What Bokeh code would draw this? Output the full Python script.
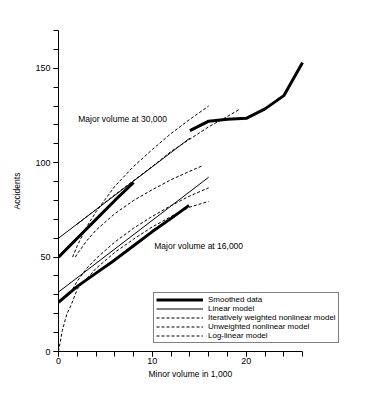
from bokeh.plotting import figure
from bokeh.models import Range1d, SingleIntervalTicker, Legend, LegendItem, Label, Title
from bokeh.embed import file_html
from bokeh.resources import INLINE

# ---- data ----
# Smoothed data, major volume 30,000 (two pieces) and 16,000
smooth_hi1_x = [0, 2, 4, 6, 8]
smooth_hi1_y = [50, 60, 70, 80, 89.5]
smooth_hi2_x = [14, 16, 18, 20, 22, 24, 26]
smooth_hi2_y = [117, 122, 123, 123.5, 128.5, 135.5, 153]
smooth_lo_x = [0, 2, 4, 6, 8, 10, 12, 13.9]
smooth_lo_y = [26, 34.5, 41.5, 48.5, 56, 63.5, 70.5, 77.4]

# Linear model
linear_hi_x = [0, 14]
linear_hi_y = [60, 113]
linear_lo_x = [0, 16]
linear_lo_y = [31.5, 92.3]

# Iteratively weighted nonlinear model
iw_hi_x = [1.5, 2, 3, 4, 6, 8, 10, 12, 14, 16]
iw_hi_y = [50, 56, 66, 74, 87.5, 98, 107, 115.5, 123, 130]
iw_lo_x = [1.5, 2, 3, 4, 6, 8, 10, 12, 14, 16]
iw_lo_y = [33, 37.3, 44, 49.2, 58, 65.3, 71.6, 77.3, 82.4, 86.7]

# Unweighted nonlinear model
uw_hi_x = [1.8, 2, 3, 4, 6, 8, 10, 12, 14, 15.4]
uw_hi_y = [50, 51.7, 58.6, 64.3, 73, 80, 85.7, 91, 95.5, 98.5]

# Log-linear model
ll_hi_x = [2, 6, 10, 12, 14, 16, 18, 19.3]
ll_hi_y = [67.5, 83, 98, 106, 112.5, 119, 124.5, 128.3]
ll_lo_x = [0, 0.4, 0.9, 1.3, 2, 3, 4, 6, 8, 10, 12, 14, 16]
ll_lo_y = [0, 11, 20, 24, 33, 38.5, 44, 52.5, 59.5, 66, 71.5, 76.5, 79.5]

x_axis_max = 26
y_axis_max = 170
x_ticks_major = 10
y_ticks_major = 50

FONT = "Liberation Sans"

# frame is wider than the x axis so the legend (which overhangs the axis end) is not clipped
p = figure(width=377, height=395, output_backend="svg", toolbar_location=None,
           x_range=Range1d(0, 31), y_range=Range1d(0, y_axis_max),
           min_border_left=58, min_border_right=28, min_border_top=30,
           min_border_bottom=44)
p.outline_line_color = None
p.xgrid.grid_line_color = None
p.ygrid.grid_line_color = None
p.background_fill_color = "white"
p.border_fill_color = "white"

p.xaxis.bounds = (0, x_axis_max)
p.xaxis.ticker = SingleIntervalTicker(interval=x_ticks_major, num_minor_ticks=5)
p.yaxis.ticker = SingleIntervalTicker(interval=y_ticks_major, num_minor_ticks=5)
for ax in (p.xaxis[0], p.yaxis[0]):
    ax.major_tick_in = 0
    ax.minor_tick_in = 0
    ax.major_tick_out = 5
    ax.minor_tick_out = 5
    ax.axis_line_color = "black"
    ax.major_tick_line_color = "black"
    ax.minor_tick_line_color = "black"
    ax.major_label_text_font = FONT
    ax.major_label_text_font_size = "9px"
    ax.major_label_text_color = "black"
    ax.axis_label_text_font = FONT
    ax.axis_label_text_font_size = "8.5px"
    ax.axis_label_text_font_style = "normal"
    ax.axis_label_text_color = "black"
p.yaxis.axis_label = "Accidents"
p.xaxis.major_label_standoff = 1
p.yaxis.major_label_standoff = 3
p.yaxis.axis_label_standoff = 10

# x-axis title placed under the drawn part of the axis, as in the reference
p.add_layout(Title(text="Minor volume in 1,000", align="left", offset=90, standoff=0,
                   text_font=FONT, text_font_size="8.5px", text_font_style="normal",
                   text_color="black"), "below")

thick = dict(line_color="black", line_width=3)
thin = dict(line_color="black", line_width=1)
dash = dict(line_color="black", line_width=1, line_dash="3 2")

r_s1 = p.line(smooth_hi1_x, smooth_hi1_y, **thick)
p.line(smooth_hi2_x, smooth_hi2_y, **thick)
p.line(smooth_lo_x, smooth_lo_y, **thick)

r_lin = p.line(linear_hi_x, linear_hi_y, **thin)
p.line(linear_lo_x, linear_lo_y, **thin)

r_iw = p.line(iw_hi_x, iw_hi_y, **dash)
p.line(iw_lo_x, iw_lo_y, **dash)

r_uw = p.line(uw_hi_x, uw_hi_y, **dash)

r_ll = p.line(ll_hi_x, ll_hi_y, **dash)
p.line(ll_lo_x, ll_lo_y, **dash)

p.add_layout(Label(x=2.1, y=123, text="Major volume at 30,000", text_font=FONT,
                   text_font_size="8.5px", text_baseline="middle", text_color="black"))
p.add_layout(Label(x=10.2, y=55.7, text="Major volume at 16,000", text_font=FONT,
                   text_font_size="8.5px", text_baseline="middle", text_color="black"))

legend = Legend(items=[
    LegendItem(label="Smoothed data", renderers=[r_s1]),
    LegendItem(label="Linear model", renderers=[r_lin]),
    LegendItem(label="Iteratively weighted nonlinear model", renderers=[r_iw]),
    LegendItem(label="Unweighted nonlinear model", renderers=[r_uw]),
    LegendItem(label="Log-linear model", renderers=[r_ll]),
], location=(95, 8))
legend.border_line_color = "black"
legend.border_line_width = 1
legend.background_fill_color = "white"
legend.background_fill_alpha = 1
legend.label_text_font = FONT
legend.label_text_font_size = "8px"
legend.label_text_color = "black"
legend.glyph_width = 47
legend.glyph_height = 9
legend.label_height = 9
legend.label_standoff = 5
legend.spacing = 0
legend.padding = 2
legend.margin = 0
p.add_layout(legend)

open("out.html", "w").write(file_html(p, INLINE))
